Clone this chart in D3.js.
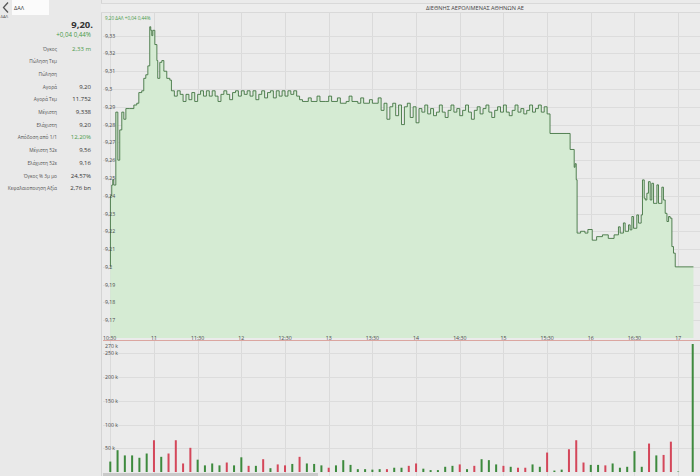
<!DOCTYPE html>
<html><head><meta charset="utf-8">
<script src="https://cdn.jsdelivr.net/npm/d3@7"></script>
<style>
body{margin:0;background:#ebebeb;font-family:"Open Sans",sans-serif;overflow:hidden}
svg{display:block}
</style></head><body>
<svg id="c" width="700" height="476"></svg>
<script>
// ---------- DATA ----------
const title = "ΔΙΕΘΝΗΣ ΑΕΡΟΛΙΜΕΝΑΣ ΑΘΗΝΩΝ ΑΕ";
const symbol = "ΔΑΛ";
const lastPrice = "9,20.";
const change = "+0,04  0,44%";
const chartTag = "9,20 ΔΑΛ +0,04 0,44%";
const statLabels = ["Όγκος","Πώληση Τεμ","Πώληση","Αγορά","Αγορά Τεμ","Μέγιστη","Ελάχιστη","Απόδοση από 1/1","Μέγιστη 52ε","Ελάχιστη 52ε","Όγκος % 3μ μο","Κεφαλαιοποιηση Αξία"];
const statValues = ["2,33 m","","","9,20","11.752","9,338","9,20","12,20%","9,56","9,16","24,57%","2,76 bn"];
const statGreen = [true,false,false,false,false,false,false,true,false,false,false,false];

// minutes after 10:30 and price
const priceMinutes = [0,0.1,1,1.7,2.4,3.8,5.2,6.5,7.9,9.3,10.7,13.4,16.2,18.2,19.6,21.6,23,24.4,25.8,27.1,27.8,28.5,29.2,30.6,32,32.6,34,35.4,36.8,38.8,40.9,
 42,44,46,48,50,52,54,56,58,60,62,64,66,68,70,72,74,76,78,80,82,84,86,88,90,
 92,94,96,98,100,102,104,106,108,110,112,114,116,118,120,122,124,126,128,130,
 132,136,138,142,144,148,150,152,156,158,162,164,166,170,172,174,178,180,184,
 186,188,190,192,194,196,198,200,202,204,206,208,210,212,
 214,216,218,220,222,224,226,228,230,232,234,236,238,240,242,244,246,248,250,252,254,256,258,260,262,264,266,268,270,272,274,276,278,280,282,284,286,288,290,292,294,296,298,300,
 302,313,315.8,318.6,319.2,320,320.6,
 323,326,328,331,334,338,342,346,
 349,350.2,352.4,353.6,355.9,357,358.2,359.3,361.6,362.8,364.6,
 365.5,366.7,367.4,368.5,369.6,370.8,371.9,373.1,374.2,375.4,376.5,377.7,378.8,379.9,
 381.1,382.3,383.4,384.5,385.7,386.8,388,400.5];
const priceValues = [9.200,9.240,9.246,9.249,9.246,9.287,9.260,9.277,9.287,9.283,9.289,9.289,9.291,9.292,9.298,9.299,9.306,9.308,9.313,9.335,9.333,9.330,9.333,9.325,9.316,9.306,9.315,9.316,9.310,9.306,9.305,
 9.299,9.296,9.299,9.297,9.293,9.297,9.294,9.298,9.293,9.297,9.299,9.296,9.299,9.296,9.299,9.296,9.293,9.297,9.299,9.297,9.294,9.298,9.299,9.296,9.299,
 9.297,9.299,9.296,9.299,9.294,9.297,9.299,9.295,9.298,9.299,9.295,9.299,9.296,9.299,9.296,9.299,9.297,9.299,9.296,9.294,
 9.293,9.295,9.293,9.296,9.293,9.293,9.296,9.293,9.295,9.292,9.293,9.296,9.293,9.292,9.295,9.292,9.294,9.292,9.295,
 9.288,9.292,9.283,9.290,9.292,9.285,9.291,9.280,9.290,9.292,9.284,9.290,9.281,9.289,
 9.287,9.291,9.286,9.289,9.285,9.287,9.291,9.287,9.284,9.288,9.291,9.287,9.289,9.285,9.288,9.291,9.287,9.283,9.288,9.290,9.286,9.289,9.291,9.287,9.284,9.288,9.290,9.287,9.291,9.287,9.285,9.288,9.291,9.287,9.289,9.286,9.288,9.291,9.287,9.289,9.291,9.287,9.290,9.286,
 9.275,9.275,9.266,9.256,9.258,9.249,9.219,
 9.220,9.219,9.221,9.215,9.217,9.218,9.216,9.218,
 9.2225,9.219,9.2247,9.220,9.2236,9.2208,9.2283,9.2217,9.2292,9.2246,9.2292,
 9.2489,9.2386,9.2376,9.2414,9.2479,9.2376,9.2470,9.2357,9.2357,9.2461,9.2357,9.2357,9.2448,9.2376,
 9.2301,9.2255,9.2283,9.2274,9.2114,9.2077,9.200,9.200];

// 5-minute volume bars (thousands), starting 10:30; direction 1 = up, -1 = down
const volumes = [22,46,35,35,30,39,67,32,39,67,18,51,26,14,18,14,20,14,31,
 13,13,27,8,16,14,17,32,18,17,14,9,14,25,15,6,6,5,6,6,9,9,13,18,7,4,4,11,13,16,6,13,27,25,16,13,11,9,9,16,11,
 41,3,5,48,67,20,15,15,14,18,9,11,44,11,60,35,36,64,1,0,270];
const volDirection = [1,1,1,1,1,1,-1,1,-1,-1,-1,-1,1,1,1,1,-1,1,1,
 -1,1,-1,1,-1,-1,1,-1,1,1,1,-1,1,1,1,1,1,1,1,-1,1,1,-1,-1,1,1,1,1,1,-1,1,-1,1,1,1,-1,1,-1,-1,1,1,
 -1,1,1,-1,-1,-1,1,1,-1,1,1,1,1,1,-1,1,-1,-1,1,1,1];

const priceTicks = [9.17,9.18,9.19,9.2,9.21,9.22,9.23,9.24,9.25,9.26,9.27,9.28,9.29,9.3,9.31,9.32,9.33];
const volTicks = [50,100,150,200,250,270];
const volTickLabels = ["50 k","100 k","150 k","200 k","250 k","270 k"];
const timeTickLabels = ["10:30","11","11:30","12","12:30","13","13:30","14","14:30","15","15:30","16","16:30","17"];

// ---------- DRAW ----------
const svg = d3.select("#c");
const W = 700, H = 476;
const plotL = 103, plotR = 700;
const pTop = 12, pBot = 338;
const vTop = 344, vBot = 472;

const base = new Date(2020,0,1,10,30);
const t = m => new Date(base.getTime() + m*60000);
const x = d3.scaleTime().domain([t(-5), t(405)]).range([plotL, plotR]);
const y = d3.scaleLinear().domain([9.16, 9.3433]).range([pBot, pTop]);
const yv = d3.scaleLinear().domain([0, 270]).range([vBot, vTop]);

// backgrounds
svg.append("rect").attr("x",0).attr("y",0).attr("width",W).attr("height",H).attr("fill","#ebebeb");
svg.append("rect").attr("x",0).attr("y",0).attr("width",101).attr("height",H).attr("fill","#e9e9e9");
svg.append("line").attr("x1",101.5).attr("x2",101.5).attr("y1",0).attr("y2",H).attr("stroke","#d4d4d4");

// top band
svg.append("rect").attr("x",101).attr("y",3).attr("width",W-101).attr("height",10).attr("fill","#ededed");
svg.append("line").attr("x1",101).attr("x2",W).attr("y1",3.5).attr("y2",3.5).attr("stroke","#d9d9d9");
svg.append("line").attr("x1",101).attr("x2",W).attr("y1",12.5).attr("y2",12.5).attr("stroke","#d9d9d9");
svg.append("text").attr("x",475).attr("y",8).attr("text-anchor","middle").attr("dominant-baseline","central")
  .attr("font-size",5.6).attr("fill","#444").text(title);

// time ticks
const timeTicks = d3.range(0, 391, 30).map(t);
const grid = svg.append("g");
timeTicks.forEach(d => {
  grid.append("line").attr("x1",Math.round(x(d))+0.5).attr("x2",Math.round(x(d))+0.5)
    .attr("y1",pTop).attr("y2",H).attr("stroke","#dadada");
});
priceTicks.forEach(v => {
  grid.append("line").attr("x1",plotL).attr("x2",plotR).attr("y1",Math.round(y(v))+0.5).attr("y2",Math.round(y(v))+0.5)
    .attr("stroke","#dcdcdc");
});
volTicks.slice(0,5).forEach(v => {
  grid.append("line").attr("x1",plotL).attr("x2",plotR).attr("y1",Math.round(yv(v))+0.5).attr("y2",Math.round(yv(v))+0.5)
    .attr("stroke","#dcdcdc");
});

// price area + line
const pts = priceMinutes.map((m,i)=>({d:t(m), v:priceValues[i]}));
const area = d3.area().x(p=>x(p.d)).y0(pBot).y1(p=>y(p.v)).curve(d3.curveStepAfter);
const line = d3.line().x(p=>x(p.d)).y(p=>y(p.v)).curve(d3.curveStepAfter);
svg.append("path").datum(pts).attr("d",area).attr("fill","#d5ebd3");
svg.append("path").datum(pts).attr("d",line).attr("fill","none").attr("stroke","#3a6e3a").attr("stroke-width",0.85);

// x axis line
svg.append("line").attr("x1",plotL).attr("x2",plotR).attr("y1",340.5).attr("y2",340.5).attr("stroke","#dba6a0");

// price axis labels
priceTicks.forEach(v => {
  svg.append("text").attr("x",105).attr("y",y(v)).attr("dominant-baseline","central")
    .attr("font-size",5.2).attr("fill","#4a4a4a").text(d3.format(".2~f")(v).replace(".",","));
});
// time labels
timeTicks.forEach((d,i) => {
  svg.append("text").attr("x",i===0?103:x(d)).attr("y",338).attr("text-anchor",i===0?"start":"middle")
    .attr("dominant-baseline","central").attr("font-size",5.2).attr("fill","#4a4a4a").text(timeTickLabels[i]);
});

// chart tag
svg.append("text").attr("x",105).attr("y",18).attr("dominant-baseline","central").attr("font-size",4.6)
  .attr("fill","#4a9a4a").text(chartTag);

// volume bars
svg.append("g").selectAll("rect").data(volumes).join("rect")
  .attr("x",(v,i)=>x(t(i*5))-1).attr("width",2)
  .attr("y",v=>yv(v)).attr("height",v=>vBot-yv(v))
  .attr("fill",(v,i)=>volDirection[i]>0?"#3d8a3d":"#d4475a");

// volume labels
volTicks.forEach((v,i) => {
  svg.append("text").attr("x",105).attr("y",yv(v)+ (v===270?2:0)).attr("dominant-baseline","central")
    .attr("font-size",5.2).attr("fill","#4a4a4a").text(volTickLabels[i]);
});

// scrollbar
svg.append("rect").attr("x",103).attr("y",473).attr("width",215).attr("height",3).attr("fill","#c9c9c9");

// left panel
svg.append("path").attr("d","M8,2.5 L3.5,7.5 L8,12.5").attr("fill","none").attr("stroke","#555").attr("stroke-width",1.3);
svg.append("rect").attr("x",12).attr("y",0).attr("width",37).attr("height",15).attr("fill","#fbfbfb");
svg.append("text").attr("x",14).attr("y",8).attr("dominant-baseline","central").attr("font-size",5.5).attr("fill","#333").text(symbol);
svg.append("text").attr("x",0.5).attr("y",16.5).attr("dominant-baseline","central").attr("font-size",4.2).attr("fill","#555").text(symbol);

svg.append("text").attr("x",93).attr("y",24).attr("text-anchor","end").attr("dominant-baseline","central")
  .attr("font-size",9.5).attr("font-weight","bold").attr("fill","#333").text(lastPrice);
svg.append("text").attr("x",91).attr("y",34.5).attr("text-anchor","end").attr("dominant-baseline","central")
  .attr("font-size",6.2).attr("fill","#4a9a4a").text(change);

statLabels.forEach((l,i) => {
  const yy = 48.5 + i*12.7;
  svg.append("text").attr("x",57).attr("y",yy).attr("text-anchor","end").attr("dominant-baseline","central")
    .attr("font-size",4.8).attr("fill","#555").text(l);
  if (statValues[i]) svg.append("text").attr("x",91).attr("y",yy).attr("text-anchor","end").attr("dominant-baseline","central")
    .attr("font-size",6).attr("fill",statGreen[i]?"#4a9a4a":"#333").text(statValues[i]);
});
</script>
</body></html>
